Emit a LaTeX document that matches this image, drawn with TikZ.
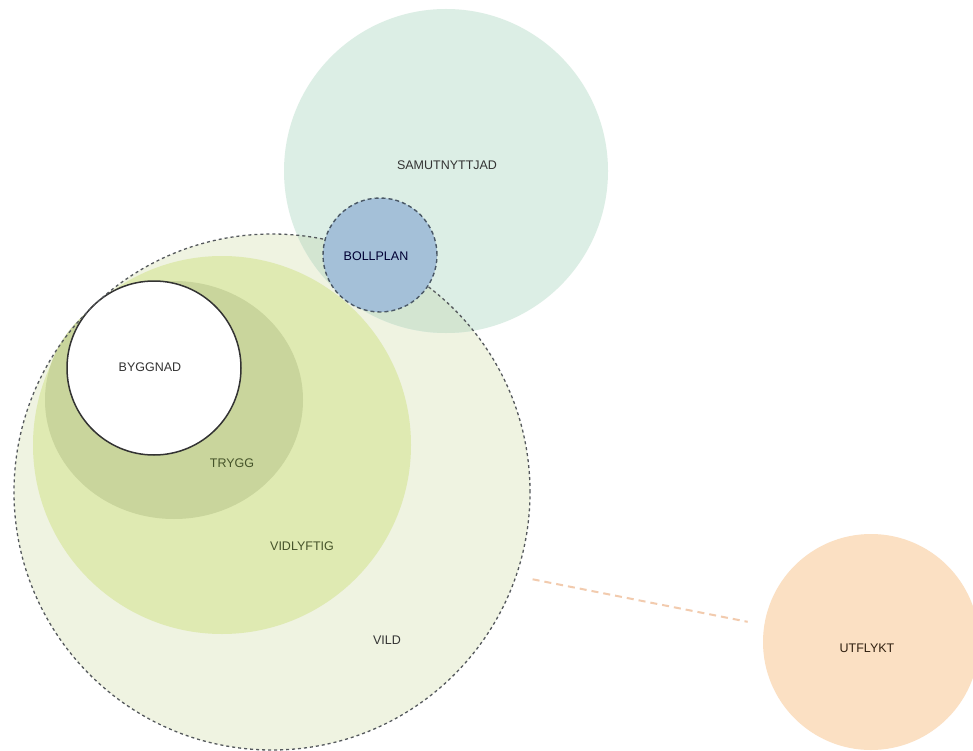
\documentclass[tikz,border=0pt]{standalone}
\usepackage{fontspec}
\setmainfont{Liberation Sans}
\usetikzlibrary{shapes.geometric}
\definecolor{vildfill}{HTML}{EFF3E1}
\definecolor{vidfill}{HTML}{DFEAB2}
\definecolor{tryggfill}{HTML}{C9D59C}
\definecolor{samfill}{HTML}{DCEEE5}
\definecolor{overlapfill}{HTML}{D3E5D1}
\definecolor{bollfill}{HTML}{A4C0D8}
\definecolor{utfill}{HTML}{FBE0C3}
\definecolor{dashgray}{HTML}{55595D}
\definecolor{bolledge}{HTML}{4A5866}
\definecolor{orangedash}{HTML}{F2CBAE}
\definecolor{olivetext}{HTML}{45532A}
\definecolor{graytext}{HTML}{333333}
\begin{document}
\begin{tikzpicture}[x=1pt,y=-1pt,
  zone/.style={circle, inner sep=0pt, outer sep=0pt, draw=none},
  lbl/.style={inner sep=0pt, font=\fontsize{12.5}{14}\selectfont, text=graytext},
  olbl/.style={lbl, text=olivetext},
  vildedge/.style={draw=dashgray, line width=1.3pt, dash pattern=on 3pt off 3pt},
  bolledgestyle/.style={draw=bolledge, line width=1.4pt, dash pattern=on 4pt off 3pt},
  link/.style={draw=orangedash, line width=2pt, dash pattern=on 7pt off 5pt}]
\useasboundingbox (0,0) rectangle (973,751);
\fill[white] (0,0) rectangle (973,751);
% zones
\node[zone, fill=vildfill, minimum size=516pt] (vild) at (272,492) {};
\node[zone, fill=vidfill, minimum size=378pt] (vid) at (222,445) {};
\node[ellipse, inner sep=0pt, outer sep=0pt, fill=tryggfill, minimum width=258pt, minimum height=238pt] (trygg) at (174,400) {};
\node[zone, fill=white, draw=black!80, line width=1.5pt, minimum size=174pt] (bygg) at (154,368) {};
\node[zone, fill=samfill, minimum size=324pt] (sam) at (446,171) {};
\begin{scope}
  \clip (sam.center) circle[radius=162pt];
  \fill[overlapfill] (vild.center) circle[radius=258pt];
\end{scope}
\draw[vildedge] (vild.center) circle[radius=258pt];
\node[zone, fill=bollfill, minimum size=114pt, bolledgestyle] (boll) at (380,255) {};
\node[zone, fill=utfill, minimum size=216pt] (utf) at (871,642) {};
% connector
\draw[link, shorten <=17pt, shorten >=17pt] (vild.-19) -- (utf.171);
% labels
\node[lbl] (tsam) at (447,165) {SAMUTNYTTJAD};
\node[lbl, text=black!80!blue] (tboll) at (376,256) {BOLLPLAN};
\node[lbl] (tbygg) at (150,367) {BYGGNAD};
\node[olbl] (ttrygg) at (232,463) {TRYGG};
\node[olbl] (tvid) at (302,546) {VIDLYFTIG};
\node[lbl] (tvild) at (387,640) {VILD};
\node[lbl, text=black!75!brown] (tutf) at (867,648) {UTFLYKT};
\end{tikzpicture}
\end{document}
